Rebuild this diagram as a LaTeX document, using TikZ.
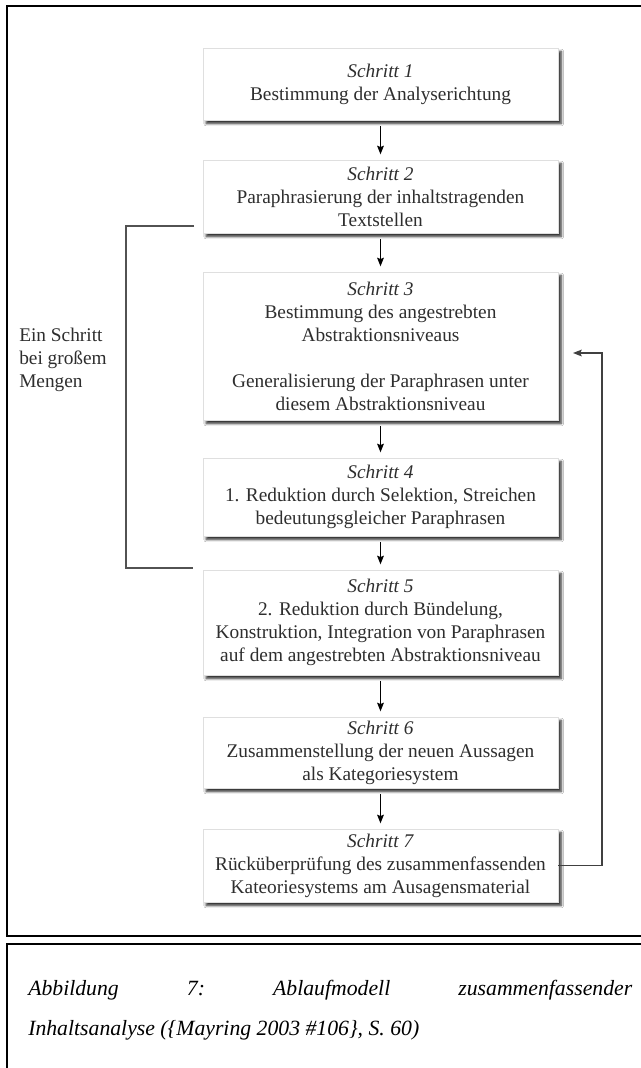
\documentclass[tikz,border=0pt]{standalone}
\usepackage{fontspec}
\setmainfont{Liberation Serif}
\usetikzlibrary{arrows.meta,shadows.blur,calc}
\begin{document}
\begin{tikzpicture}[x=0.75pt,y=-0.75pt,
  stepbox/.style={draw=gray!25, line width=0.4pt, fill=white,
    minimum width=266.25pt, inner sep=0pt, align=center,
    font=\fontsize{14.5}{17.25}\selectfont, text=black!82,
    blur shadow={shadow xshift=2.4pt, shadow yshift=-2.6pt,
      shadow blur radius=1.8pt, shadow blur steps=6, shadow opacity=85}},
  flow/.style={line width=1.1pt, -{Stealth[length=6.5pt,width=5pt,inset=1pt]},
    shorten <=4.5pt, shorten >=4pt},
  loopline/.style={line width=1.1pt, draw=black!75,
    -{Stealth[length=6.5pt,width=5pt,inset=1pt]}},
  bracket/.style={draw=black!68, line width=1.3pt},
  frame/.style={line width=1.8pt},
  label/.style={font=\fontsize{14.5}{17.25}\selectfont, text=black!82,
    align=left, inner sep=0pt},
  caption/.style={font=\fontsize{16.3}{19}\selectfont\itshape, inner sep=0pt}
]
\useasboundingbox (0,0) rectangle (640,1068);
\fill[white] (0,0) rectangle (640,1068);

% outer frame around the flow chart and the caption frame below it
\draw[frame] (660,6) -- (7,6) -- (7,936) -- (660,936);
\draw[frame] (660,944) -- (7,944) -- (7,1090);

% the seven steps
\node[stepbox, minimum height=54pt] (s1) at (380.5,84)
  {\textit{Schritt 1}\\Bestimmung der Analyserichtung};
\node[stepbox, minimum height=54.75pt] (s2) at (380.5,196.5)
  {\textit{Schritt 2}\\Paraphrasierung der inhaltstragenden\\Textstellen};
\node[stepbox, minimum height=111pt] (s3) at (380.5,346)
  {\textit{Schritt 3}\\Bestimmung des angestrebten\\Abstraktionsniveaus\\[17.25pt]
   Generalisierung der Paraphrasen unter\\diesem Abstraktionsniveau};
\node[stepbox, minimum height=58.5pt] (s4) at (380.5,497)
  {\textit{Schritt 4}\\1. Reduktion durch Selektion, Streichen\\bedeutungsgleicher Paraphrasen};
\node[stepbox, minimum height=78.75pt] (s5) at (380.5,622.5)
  {\textit{Schritt 5}\\2. Reduktion durch Bündelung,\\Konstruktion, Integration von Paraphrasen\\auf dem angestrebten Abstraktionsniveau};
\node[stepbox, minimum height=53.25pt] (s6) at (380.5,752.5)
  {\textit{Schritt 6}\\Zusammenstellung der neuen Aussagen\\als Kategoriesystem};
\node[stepbox, minimum height=54.75pt] (s7) at (380.5,865.5)
  {\textit{Schritt 7}\\Rücküberprüfung des zusammenfassenden\\Kateoriesystems am Ausagensmaterial};

% main sequence
\draw[flow] (s1) -- (s2);
\draw[flow] (s2) -- (s3);
\draw[flow] (s3) -- (s4);
\draw[flow] (s4) -- (s5);
\draw[flow] (s5) -- (s6);
\draw[flow] (s6) -- (s7);

% bracket: steps 2 to 5 in one go
\coordinate (brtop) at (194,226);
\coordinate (brbot) at (193,568);
\draw[bracket] (brtop) -- (126,226) |- (brbot);
\node[label, anchor=west] (brlabel) at (19,360) {Ein Schritt\\bei großem\\Mengen};

% feedback from step 7 back to step 3
\coordinate (fbend) at (573,353);
\draw[loopline] (s7.east) -- (602,865.5) |- (fbend);

% caption
\node[caption, anchor=west] (cap1) at (28,990)
  {\hbox to 453pt{Abbildung\hfill 7:\hfill Ablaufmodell\hfill zusammenfassender}};
\node[caption, anchor=west] (cap2) at (28,1030)
  {Inhaltsanalyse (\{Mayring 2003 \#106\}, S. 60)};
\end{tikzpicture}
\end{document}
